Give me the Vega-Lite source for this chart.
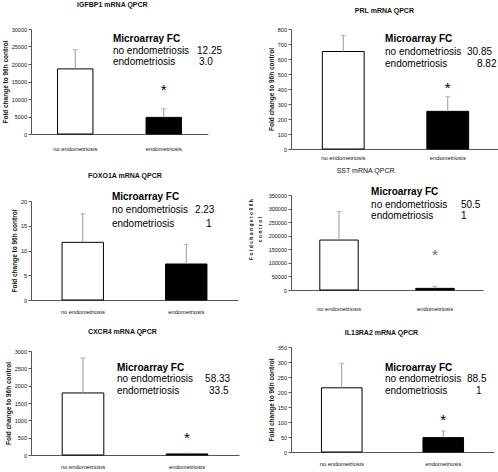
{
  "$schema": "https://vega.github.io/schema/vega-lite/v6.json",
  "padding": {"left": 2, "top": 1, "right": 0, "bottom": 0},
  "background": "white",
  "datasets": {
    "bars": [
      {"gene": "IGFBP1", "group": "no endometriosis", "mean": 18600, "upper": 24100, "star": null},
      {"gene": "IGFBP1", "group": "endometriosis", "mean": 4750, "upper": 7200, "star": 13700},
      {"gene": "PRL", "group": "no endometriosis", "mean": 650, "upper": 756, "star": null},
      {"gene": "PRL", "group": "endometriosis", "mean": 251, "upper": 349, "star": 427},
      {"gene": "FOXO1A", "group": "no endometriosis", "mean": 11.65, "upper": 17.4, "star": null},
      {"gene": "FOXO1A", "group": "endometriosis", "mean": 7.27, "upper": 11.25, "star": null},
      {"gene": "SST", "group": "no endometriosis", "mean": 184000, "upper": 289000, "star": null},
      {"gene": "SST", "group": "endometriosis", "mean": 6000, "upper": 13500, "star": 141000},
      {"gene": "CXCR4", "group": "no endometriosis", "mean": 1790, "upper": 2800, "star": null},
      {"gene": "CXCR4", "group": "endometriosis", "mean": 30, "upper": 55, "star": 577},
      {"gene": "IL13RA2", "group": "no endometriosis", "mean": 214, "upper": 296, "star": null},
      {"gene": "IL13RA2", "group": "endometriosis", "mean": 48, "upper": 70, "star": 120}
    ],
    "notes": [
      {"gene": "IGFBP1", "kind": "head", "text": "Microarray FC", "ax": 0.463, "ay": 0.905},
      {"gene": "IGFBP1", "kind": "body", "text": "no endometriosis", "ax": 0.463, "ay": 0.79},
      {"gene": "IGFBP1", "kind": "body", "text": "12.25", "ax": 0.938, "ay": 0.79},
      {"gene": "IGFBP1", "kind": "body", "text": "endometriosis", "ax": 0.463, "ay": 0.686},
      {"gene": "IGFBP1", "kind": "body", "text": "3.0", "ax": 0.949, "ay": 0.686},
      {"gene": "PRL", "kind": "head", "text": "Microarray FC", "ax": 0.45, "ay": 0.92},
      {"gene": "PRL", "kind": "body", "text": "no endometriosis", "ax": 0.45, "ay": 0.812},
      {"gene": "PRL", "kind": "body", "text": "30.85", "ax": 0.842, "ay": 0.812},
      {"gene": "PRL", "kind": "body", "text": "endometriosis", "ax": 0.45, "ay": 0.712},
      {"gene": "PRL", "kind": "body", "text": "8.82", "ax": 0.89, "ay": 0.712},
      {"gene": "FOXO1A", "kind": "head", "text": "Microarray FC", "ax": 0.391, "ay": 1.04},
      {"gene": "FOXO1A", "kind": "body", "text": "no endometriosis", "ax": 0.391, "ay": 0.909},
      {"gene": "FOXO1A", "kind": "body", "text": "2.23", "ax": 0.792, "ay": 0.909},
      {"gene": "FOXO1A", "kind": "body", "text": "endometriosis", "ax": 0.391, "ay": 0.768},
      {"gene": "FOXO1A", "kind": "body", "text": "1", "ax": 0.845, "ay": 0.768},
      {"gene": "SST", "kind": "head", "text": "Microarray FC", "ax": 0.417, "ay": 1.032},
      {"gene": "SST", "kind": "body", "text": "no endometriosis", "ax": 0.417, "ay": 0.895},
      {"gene": "SST", "kind": "body", "text": "50.5", "ax": 0.885, "ay": 0.895},
      {"gene": "SST", "kind": "body", "text": "endometriosis", "ax": 0.417, "ay": 0.779},
      {"gene": "SST", "kind": "body", "text": "1", "ax": 0.885, "ay": 0.779},
      {"gene": "CXCR4", "kind": "head", "text": "Microarray FC", "ax": 0.413, "ay": 0.837},
      {"gene": "CXCR4", "kind": "body", "text": "no endometriosis", "ax": 0.413, "ay": 0.731},
      {"gene": "CXCR4", "kind": "body", "text": "58.33", "ax": 0.837, "ay": 0.731},
      {"gene": "CXCR4", "kind": "body", "text": "endometriosis", "ax": 0.413, "ay": 0.615},
      {"gene": "CXCR4", "kind": "body", "text": "33.5", "ax": 0.856, "ay": 0.615},
      {"gene": "IL13RA2", "kind": "head", "text": "Microarray FC", "ax": 0.463, "ay": 0.8},
      {"gene": "IL13RA2", "kind": "body", "text": "no endometriosis", "ax": 0.463, "ay": 0.695},
      {"gene": "IL13RA2", "kind": "body", "text": "88.5", "ax": 0.867, "ay": 0.695},
      {"gene": "IL13RA2", "kind": "body", "text": "endometriosis", "ax": 0.463, "ay": 0.581},
      {"gene": "IL13RA2", "kind": "body", "text": "1", "ax": 0.911, "ay": 0.581}
    ]
  },
  "config": {
    "view": {"stroke": null},
    "font": "Liberation Sans",
    "axis": {"labelFont": "Liberation Sans", "labelFontSize": 5.5, "labelColor": "#111", "labelOverlap": false, "domainColor": "#555", "tickColor": "#555", "tickSize": 3, "labelPadding": 1.5, "titleFont": "Liberation Sans", "titleFontSize": 6.5, "titleFontWeight": "bold", "titleColor": "#111", "titlePadding": 2.5, "grid": false},
    "axisX": {"ticks": false, "labelFontSize": 5.8, "labelPadding": 8, "labelAngle": 0},
    "title": {"font": "Liberation Sans", "fontSize": 7, "fontWeight": "bold", "color": "#111", "anchor": "middle", "frame": "bounds"},
    "text": {"color": "#111"}
  },
  "columns": 2,
  "align": "none",
  "spacing": 9,
  "concat": [
    {
      "concat": [
        {
          "width": 177, "height": 105,
          "title": {"text": "IGFBP1 mRNA QPCR", "offset": 19},
          "layer": [
            {
              "data": {"name": "bars"},
              "transform": [{"filter": "datum.gene === 'IGFBP1'"}],
              "encoding": {"x": {"field": "group", "type": "nominal", "sort": null, "scale": {"domain": ["no endometriosis", "endometriosis"], "paddingInner": 0.6, "paddingOuter": 0.3}, "axis": {"title": ".", "titleColor": "white", "titleFontSize": 5, "titlePadding": 2, "labelPadding": 11}}},
              "layer": [
                {"mark": {"type": "bar", "stroke": "#000", "strokeWidth": 1}, "encoding": {"y": {"field": "mean", "type": "quantitative", "scale": {"domain": [0, 30000]}, "axis": {"title": "Fold change to 96h control", "values": [0, 5000, 10000, 15000, 20000, 25000, 30000], "tickCount": 20, "format": "d", "labelOverlap": false}}, "fill": {"field": "group", "type": "nominal", "scale": {"domain": ["no endometriosis", "endometriosis"], "range": ["#ffffff", "#000000"]}, "legend": null}}},
                {"mark": {"type": "rule", "color": "#999", "strokeWidth": 1}, "encoding": {"y": {"field": "mean", "type": "quantitative"}, "y2": {"field": "upper"}}},
                {"mark": {"type": "tick", "color": "#999", "size": 5, "thickness": 1}, "encoding": {"y": {"field": "upper", "type": "quantitative"}}},
                {"transform": [{"filter": "datum.star != null"}], "mark": {"type": "text", "text": "*", "fontSize": 15, "dy": 8.5, "baseline": "alphabetic", "color": "#000"}, "encoding": {"y": {"field": "star", "type": "quantitative"}}}
              ]
            },
            {
              "data": {"name": "notes"},
              "transform": [{"filter": "datum.gene === 'IGFBP1' && datum.kind === 'head'"}],
              "mark": {"type": "text", "align": "left", "baseline": "middle", "fontSize": 10, "fontWeight": "bold", "color": "#000"},
              "encoding": {"x": {"field": "ax", "type": "quantitative", "scale": {"domain": [0, 1]}, "axis": null}, "y": {"field": "ay", "type": "quantitative", "scale": {"domain": [0, 1]}, "axis": null}, "text": {"field": "text"}}
            },
            {
              "data": {"name": "notes"},
              "transform": [{"filter": "datum.gene === 'IGFBP1' && datum.kind === 'body'"}],
              "mark": {"type": "text", "align": "left", "baseline": "middle", "fontSize": 10, "color": "#000"},
              "encoding": {"x": {"field": "ax", "type": "quantitative", "scale": {"domain": [0, 1]}, "axis": null}, "y": {"field": "ay", "type": "quantitative", "scale": {"domain": [0, 1]}, "axis": null}, "text": {"field": "text"}}
            }
          ],
          "resolve": {"scale": {"x": "independent", "y": "independent"}}
        },
        {
          "width": 207, "height": 99,
          "title": {"text": "FOXO1A mRNA QPCR", "offset": 13},
          "layer": [
            {
              "data": {"name": "bars"},
              "transform": [{"filter": "datum.gene === 'FOXO1A'"}],
              "encoding": {"x": {"field": "group", "type": "nominal", "sort": null, "scale": {"domain": ["no endometriosis", "endometriosis"], "paddingInner": 0.6, "paddingOuter": 0.3}, "axis": {"title": null}}},
              "layer": [
                {"mark": {"type": "bar", "stroke": "#000", "strokeWidth": 1}, "encoding": {"y": {"field": "mean", "type": "quantitative", "scale": {"domain": [0, 20]}, "axis": {"title": "Fold change to 96h control", "values": [0, 5, 10, 15, 20], "tickCount": 20, "format": "d", "labelOverlap": false}}, "fill": {"field": "group", "type": "nominal", "scale": {"domain": ["no endometriosis", "endometriosis"], "range": ["#ffffff", "#000000"]}, "legend": null}}},
                {"mark": {"type": "rule", "color": "#999", "strokeWidth": 1}, "encoding": {"y": {"field": "mean", "type": "quantitative"}, "y2": {"field": "upper"}}},
                {"mark": {"type": "tick", "color": "#999", "size": 5, "thickness": 1}, "encoding": {"y": {"field": "upper", "type": "quantitative"}}}
              ]
            },
            {
              "data": {"name": "notes"},
              "transform": [{"filter": "datum.gene === 'FOXO1A' && datum.kind === 'head'"}],
              "mark": {"type": "text", "align": "left", "baseline": "middle", "fontSize": 10, "fontWeight": "bold", "color": "#000"},
              "encoding": {"x": {"field": "ax", "type": "quantitative", "scale": {"domain": [0, 1]}, "axis": null}, "y": {"field": "ay", "type": "quantitative", "scale": {"domain": [0, 1]}, "axis": null}, "text": {"field": "text"}}
            },
            {
              "data": {"name": "notes"},
              "transform": [{"filter": "datum.gene === 'FOXO1A' && datum.kind === 'body'"}],
              "mark": {"type": "text", "align": "left", "baseline": "middle", "fontSize": 10, "color": "#000"},
              "encoding": {"x": {"field": "ax", "type": "quantitative", "scale": {"domain": [0, 1]}, "axis": null}, "y": {"field": "ay", "type": "quantitative", "scale": {"domain": [0, 1]}, "axis": null}, "text": {"field": "text"}}
            }
          ],
          "resolve": {"scale": {"x": "independent", "y": "independent"}}
        },
        {
          "width": 208, "height": 104,
          "title": {"text": "CXCR4 mRNA QPCR", "offset": 14},
          "layer": [
            {
              "data": {"name": "bars"},
              "transform": [{"filter": "datum.gene === 'CXCR4'"}],
              "encoding": {"x": {"field": "group", "type": "nominal", "sort": null, "scale": {"domain": ["no endometriosis", "endometriosis"], "paddingInner": 0.6, "paddingOuter": 0.3}, "axis": {"title": null}}},
              "layer": [
                {"mark": {"type": "bar", "stroke": "#000", "strokeWidth": 1}, "encoding": {"y": {"field": "mean", "type": "quantitative", "scale": {"domain": [0, 3000]}, "axis": {"title": "Fold change to 96h control", "values": [0, 500, 1000, 1500, 2000, 2500, 3000], "tickCount": 20, "format": "d", "labelOverlap": false}}, "fill": {"field": "group", "type": "nominal", "scale": {"domain": ["no endometriosis", "endometriosis"], "range": ["#ffffff", "#000000"]}, "legend": null}}},
                {"mark": {"type": "rule", "color": "#999", "strokeWidth": 1}, "encoding": {"y": {"field": "mean", "type": "quantitative"}, "y2": {"field": "upper"}}},
                {"mark": {"type": "tick", "color": "#999", "size": 5, "thickness": 1}, "encoding": {"y": {"field": "upper", "type": "quantitative"}}},
                {"transform": [{"filter": "datum.star != null"}], "mark": {"type": "text", "text": "*", "fontSize": 15, "dy": 8.5, "baseline": "alphabetic", "color": "#000"}, "encoding": {"y": {"field": "star", "type": "quantitative"}}}
              ]
            },
            {
              "data": {"name": "notes"},
              "transform": [{"filter": "datum.gene === 'CXCR4' && datum.kind === 'head'"}],
              "mark": {"type": "text", "align": "left", "baseline": "middle", "fontSize": 10, "fontWeight": "bold", "color": "#000"},
              "encoding": {"x": {"field": "ax", "type": "quantitative", "scale": {"domain": [0, 1]}, "axis": null}, "y": {"field": "ay", "type": "quantitative", "scale": {"domain": [0, 1]}, "axis": null}, "text": {"field": "text"}}
            },
            {
              "data": {"name": "notes"},
              "transform": [{"filter": "datum.gene === 'CXCR4' && datum.kind === 'body'"}],
              "mark": {"type": "text", "align": "left", "baseline": "middle", "fontSize": 10, "color": "#000"},
              "encoding": {"x": {"field": "ax", "type": "quantitative", "scale": {"domain": [0, 1]}, "axis": null}, "y": {"field": "ay", "type": "quantitative", "scale": {"domain": [0, 1]}, "axis": null}, "text": {"field": "text"}}
            }
          ],
          "resolve": {"scale": {"x": "independent", "y": "independent"}}
        }
      ],
      "columns": 1,
      "spacing": 14
    },
    {
      "concat": [
        {
          "width": 209, "height": 120,
          "title": {"text": "PRL mRNA QPCR", "offset": 13},
          "layer": [
            {
              "data": {"name": "bars"},
              "transform": [{"filter": "datum.gene === 'PRL'"}],
              "encoding": {"x": {"field": "group", "type": "nominal", "sort": null, "scale": {"domain": ["no endometriosis", "endometriosis"], "paddingInner": 0.6, "paddingOuter": 0.3}, "axis": {"title": null, "labelPadding": 5}}},
              "layer": [
                {"mark": {"type": "bar", "stroke": "#000", "strokeWidth": 1}, "encoding": {"y": {"field": "mean", "type": "quantitative", "scale": {"domain": [0, 800]}, "axis": {"title": "Fold change to 96h control", "values": [0, 100, 200, 300, 400, 500, 600, 700, 800], "tickCount": 20, "format": "d", "labelOverlap": false}}, "fill": {"field": "group", "type": "nominal", "scale": {"domain": ["no endometriosis", "endometriosis"], "range": ["#ffffff", "#000000"]}, "legend": null}}},
                {"mark": {"type": "rule", "color": "#999", "strokeWidth": 1}, "encoding": {"y": {"field": "mean", "type": "quantitative"}, "y2": {"field": "upper"}}},
                {"mark": {"type": "tick", "color": "#999", "size": 5, "thickness": 1}, "encoding": {"y": {"field": "upper", "type": "quantitative"}}},
                {"transform": [{"filter": "datum.star != null"}], "mark": {"type": "text", "text": "*", "fontSize": 15, "dy": 8.5, "baseline": "alphabetic", "color": "#000"}, "encoding": {"y": {"field": "star", "type": "quantitative"}}}
              ]
            },
            {
              "data": {"name": "notes"},
              "transform": [{"filter": "datum.gene === 'PRL' && datum.kind === 'head'"}],
              "mark": {"type": "text", "align": "left", "baseline": "middle", "fontSize": 10, "fontWeight": "bold", "color": "#000"},
              "encoding": {"x": {"field": "ax", "type": "quantitative", "scale": {"domain": [0, 1]}, "axis": null}, "y": {"field": "ay", "type": "quantitative", "scale": {"domain": [0, 1]}, "axis": null}, "text": {"field": "text"}}
            },
            {
              "data": {"name": "notes"},
              "transform": [{"filter": "datum.gene === 'PRL' && datum.kind === 'body'"}],
              "mark": {"type": "text", "align": "left", "baseline": "middle", "fontSize": 10, "color": "#000"},
              "encoding": {"x": {"field": "ax", "type": "quantitative", "scale": {"domain": [0, 1]}, "axis": null}, "y": {"field": "ay", "type": "quantitative", "scale": {"domain": [0, 1]}, "axis": null}, "text": {"field": "text"}}
            }
          ],
          "resolve": {"scale": {"x": "independent", "y": "independent"}}
        },
        {
          "width": 192, "height": 95,
          "title": {"text": "SST mRNA QPCR", "offset": 13, "fontWeight": "normal"},
          "layer": [
            {
              "data": {"name": "bars"},
              "transform": [{"filter": "datum.gene === 'SST'"}],
              "encoding": {"x": {"field": "group", "type": "nominal", "sort": null, "scale": {"domain": ["no endometriosis", "endometriosis"], "paddingInner": 0.6, "paddingOuter": 0.3}, "axis": {"title": ".", "titleColor": "white", "titleFontSize": 8, "titlePadding": 4, "labelPadding": 15}}},
              "layer": [
                {"mark": {"type": "bar", "stroke": "#000", "strokeWidth": 1}, "encoding": {"y": {"field": "mean", "type": "quantitative", "scale": {"domain": [0, 350000]}, "axis": {"title": ["F o l d c h a n g e t o 9 6 h", "c o n t r o l"], "titleFontSize": 5, "titleLineHeight": 9, "titlePadding": 6, "titleY": 34, "values": [0, 50000, 100000, 150000, 200000, 250000, 300000, 350000], "tickCount": 20, "format": "d", "labelOverlap": false}}, "fill": {"field": "group", "type": "nominal", "scale": {"domain": ["no endometriosis", "endometriosis"], "range": ["#ffffff", "#000000"]}, "legend": null}}},
                {"mark": {"type": "rule", "color": "#999", "strokeWidth": 1}, "encoding": {"y": {"field": "mean", "type": "quantitative"}, "y2": {"field": "upper"}}},
                {"mark": {"type": "tick", "color": "#999", "size": 5, "thickness": 1}, "encoding": {"y": {"field": "upper", "type": "quantitative"}}},
                {"transform": [{"filter": "datum.star != null"}], "mark": {"type": "text", "text": "*", "fontSize": 15, "dy": 8.5, "baseline": "alphabetic", "color": "#666"}, "encoding": {"y": {"field": "star", "type": "quantitative"}}}
              ]
            },
            {
              "data": {"name": "notes"},
              "transform": [{"filter": "datum.gene === 'SST' && datum.kind === 'head'"}],
              "mark": {"type": "text", "align": "left", "baseline": "middle", "fontSize": 10, "fontWeight": "bold", "color": "#000"},
              "encoding": {"x": {"field": "ax", "type": "quantitative", "scale": {"domain": [0, 1]}, "axis": null}, "y": {"field": "ay", "type": "quantitative", "scale": {"domain": [0, 1]}, "axis": null}, "text": {"field": "text"}}
            },
            {
              "data": {"name": "notes"},
              "transform": [{"filter": "datum.gene === 'SST' && datum.kind === 'body'"}],
              "mark": {"type": "text", "align": "left", "baseline": "middle", "fontSize": 10, "color": "#000"},
              "encoding": {"x": {"field": "ax", "type": "quantitative", "scale": {"domain": [0, 1]}, "axis": null}, "y": {"field": "ay", "type": "quantitative", "scale": {"domain": [0, 1]}, "axis": null}, "text": {"field": "text"}}
            }
          ],
          "resolve": {"scale": {"x": "independent", "y": "independent"}}
        },
        {
          "width": 203, "height": 105,
          "title": {"text": "IL13RA2 mRNA QPCR", "offset": 9},
          "layer": [
            {
              "data": {"name": "bars"},
              "transform": [{"filter": "datum.gene === 'IL13RA2'"}],
              "encoding": {"x": {"field": "group", "type": "nominal", "sort": null, "scale": {"domain": ["no endometriosis", "endometriosis"], "paddingInner": 0.6, "paddingOuter": 0.3}, "axis": {"title": null, "labelPadding": 8}}},
              "layer": [
                {"mark": {"type": "bar", "stroke": "#000", "strokeWidth": 1}, "encoding": {"y": {"field": "mean", "type": "quantitative", "scale": {"domain": [0, 350]}, "axis": {"title": "Fold change to 96h control", "values": [0, 50, 100, 150, 200, 250, 300, 350], "tickCount": 20, "format": "d", "labelOverlap": false}}, "fill": {"field": "group", "type": "nominal", "scale": {"domain": ["no endometriosis", "endometriosis"], "range": ["#ffffff", "#000000"]}, "legend": null}}},
                {"mark": {"type": "rule", "color": "#999", "strokeWidth": 1}, "encoding": {"y": {"field": "mean", "type": "quantitative"}, "y2": {"field": "upper"}}},
                {"mark": {"type": "tick", "color": "#999", "size": 5, "thickness": 1}, "encoding": {"y": {"field": "upper", "type": "quantitative"}}},
                {"transform": [{"filter": "datum.star != null"}], "mark": {"type": "text", "text": "*", "fontSize": 15, "dy": 8.5, "baseline": "alphabetic", "color": "#000"}, "encoding": {"y": {"field": "star", "type": "quantitative"}}}
              ]
            },
            {
              "data": {"name": "notes"},
              "transform": [{"filter": "datum.gene === 'IL13RA2' && datum.kind === 'head'"}],
              "mark": {"type": "text", "align": "left", "baseline": "middle", "fontSize": 10, "fontWeight": "bold", "color": "#000"},
              "encoding": {"x": {"field": "ax", "type": "quantitative", "scale": {"domain": [0, 1]}, "axis": null}, "y": {"field": "ay", "type": "quantitative", "scale": {"domain": [0, 1]}, "axis": null}, "text": {"field": "text"}}
            },
            {
              "data": {"name": "notes"},
              "transform": [{"filter": "datum.gene === 'IL13RA2' && datum.kind === 'body'"}],
              "mark": {"type": "text", "align": "left", "baseline": "middle", "fontSize": 10, "color": "#000"},
              "encoding": {"x": {"field": "ax", "type": "quantitative", "scale": {"domain": [0, 1]}, "axis": null}, "y": {"field": "ay", "type": "quantitative", "scale": {"domain": [0, 1]}, "axis": null}, "text": {"field": "text"}}
            }
          ],
          "resolve": {"scale": {"x": "independent", "y": "independent"}}
        }
      ],
      "columns": 1,
      "spacing": 6,
      "align": "none"
    }
  ]
}
